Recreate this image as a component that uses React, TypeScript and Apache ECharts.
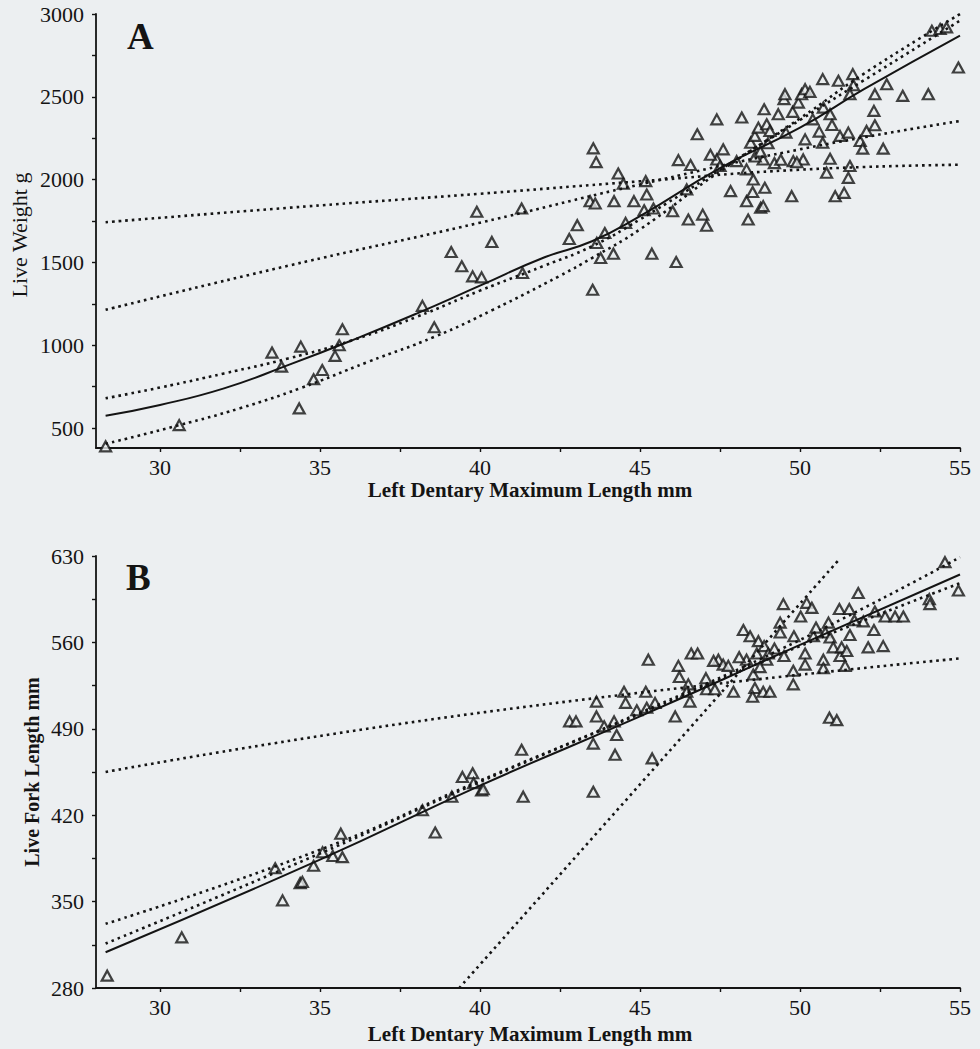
import React, { useEffect, useRef } from "react";
import * as echarts from "echarts";

// ---------- Panel A : Live Weight (g) vs Left Dentary Maximum Length (mm)
const weightPoints: [number, number][] = [
  [28.3, 390], [30.6, 518], [33.5, 956], [33.8, 871], [34.4, 992], [34.35, 619],
  [34.8, 795], [35.07, 851], [35.47, 936], [35.6, 1000], [35.7, 1097],
  [38.2, 1238], [38.57, 1109], [39.1, 1563], [39.43, 1477], [39.77, 1416],
  [40.05, 1410], [39.9, 1806], [40.37, 1624], [41.3, 1826], [41.33, 1436],
  [42.79, 1642], [43.04, 1725], [43.54, 2189], [43.63, 2106], [43.44, 1870],
  [43.6, 1856], [43.52, 1335], [43.65, 1618], [43.9, 1678], [43.77, 1527],
  [44.17, 1553], [44.19, 1870], [44.32, 2037], [44.48, 1975], [44.55, 1739],
  [44.81, 1870], [45.18, 1991], [45.21, 1910], [45.13, 1815], [45.42, 1826],
  [45.37, 1553], [46.13, 1503], [46.02, 1809], [46.2, 2118], [46.58, 2088],
  [46.46, 1941], [46.51, 1759], [46.79, 2274], [46.96, 1789], [47.08, 1722],
  [47.4, 2364], [47.4, 2122], [47.6, 2183], [47.5, 2082], [47.83, 1931],
  [48.02, 2112], [48.18, 2375], [48.33, 2062], [48.38, 1759], [48.33, 1870],
  [48.52, 1925], [48.54, 2001], [48.46, 2223], [48.59, 2264], [48.7, 2314],
  [48.77, 1830], [48.85, 1840], [48.9, 1951], [48.85, 2122], [48.88, 2425],
  [48.96, 2334], [49.06, 2294], [49.32, 2395], [49.5, 2486], [49.53, 2516],
  [49.56, 2284], [49.74, 1900], [49.77, 2409], [49.79, 2112], [49.95, 2465],
  [50.05, 2516], [50.16, 2546], [50.31, 2530], [50.16, 2243], [50.1, 2122],
  [50.4, 2364], [50.71, 2607], [50.73, 2435], [50.71, 2223], [50.94, 2126],
  [50.83, 2042], [50.94, 2395], [51.1, 1900], [51.25, 2264], [51.2, 2597],
  [51.38, 1920], [51.51, 2284], [51.56, 2082], [51.51, 2011], [51.65, 2637],
  [51.67, 2570], [51.56, 2516], [51.88, 2233], [51.96, 2187], [52.08, 2294],
  [52.34, 2328], [52.31, 2415], [52.34, 2516], [52.6, 2187], [52.71, 2576],
  [53.21, 2506], [54.01, 2516], [54.12, 2899], [54.38, 2909], [54.58, 2919],
  [54.95, 2677], [48.6, 2140], [48.76, 2170], [49.2, 2100], [49.4, 2120],
  [49.9, 2105], [49.0, 2220], [47.2, 2150], [50.6, 2290], [51.0, 2330]
];
const weightFit: [number, number][] = [
  [28.3, 575], [30, 640], [32, 740], [34, 880], [36, 1030], [38, 1190], [40, 1360],
  [42, 1530], [43.5, 1628], [45, 1780], [47.5, 2070], [50, 2314], [52, 2546], [55, 2870]
];
const weightCurveUpper: [number, number][] = [
  [28.3, 680], [30, 745], [32, 830], [34, 920], [36, 1030], [38, 1170], [40, 1330],
  [42, 1480], [43.5, 1598], [45, 1760], [47.5, 2060], [50, 2370], [52, 2640], [55, 3000]
];
const weightCurveLower: [number, number][] = [
  [28.3, 405], [30.6, 518], [32.5, 620], [34.4, 742], [36.5, 900], [38.6, 1053],
  [40.4, 1214], [42.5, 1420], [43.5, 1527], [45, 1700], [47.5, 2050], [50, 2360],
  [52, 2600], [55, 2960]
];
const weightLineFlat: [number, number][] = [
  [28.3, 1743], [34, 1830], [40, 1915], [45, 1990], [50, 2060], [55, 2090]
];
const weightLineMid: [number, number][] = [
  [28.3, 1214], [34, 1480], [40, 1740], [45, 1971], [50, 2183], [55, 2354]
];

// ---------- Panel B : Live Fork Length (mm)
const forkPoints: [number, number][] = [
  [28.35, 290], [30.68, 321], [33.83, 351], [33.6, 377], [34.38, 365], [34.45, 366],
  [34.8, 379], [35.08, 390], [35.4, 387], [35.7, 386], [35.65, 405], [38.2, 424],
  [38.6, 406], [39.12, 435], [39.45, 451], [39.77, 454], [39.8, 446], [40.05, 440],
  [40.1, 441], [41.3, 473], [41.35, 435], [42.8, 496], [43.0, 496], [43.54, 439],
  [43.64, 512], [43.64, 500], [43.54, 478], [43.88, 492], [44.19, 496], [44.27, 485],
  [44.22, 469], [44.5, 520], [44.55, 511], [44.9, 505], [45.18, 520], [45.21, 507],
  [45.47, 511], [45.38, 466], [45.26, 546], [46.1, 500], [46.2, 541], [46.23, 532],
  [46.51, 526], [46.56, 512], [46.46, 520], [46.6, 551], [46.8, 551], [47.06, 531],
  [47.08, 522], [47.34, 522], [47.45, 546], [47.6, 542], [47.76, 541], [47.92, 520],
  [48.23, 570], [48.33, 546], [48.44, 565], [48.54, 534], [48.59, 523], [48.52, 516],
  [48.65, 551], [48.7, 561], [48.85, 520], [48.88, 557], [48.96, 546], [49.06, 520],
  [49.01, 551], [49.38, 576], [49.48, 591], [49.38, 568], [49.5, 549], [49.79, 537],
  [49.79, 526], [49.81, 565], [50.02, 581], [50.16, 551], [50.16, 542], [50.21, 592],
  [50.37, 588], [50.42, 565], [50.73, 546], [50.73, 539], [50.79, 568], [50.89, 576],
  [50.94, 564], [50.92, 499], [51.15, 497], [51.04, 556], [51.23, 587], [51.25, 549],
  [51.3, 556], [51.41, 541], [51.46, 553], [51.54, 587], [51.56, 566], [51.82, 600],
  [51.98, 577], [52.13, 556], [52.31, 570], [52.34, 585], [52.6, 557], [52.66, 581],
  [52.97, 581], [53.23, 581], [54.04, 595], [54.06, 591], [54.53, 625], [54.95, 602],
  [48.75, 540], [49.2, 555], [50.5, 572], [51.7, 578], [47.3, 545], [48.1, 548]
];
const forkFit: [number, number][] = [
  [28.3, 309], [35, 384], [40, 444], [45, 500], [50, 558], [55, 615]
];
const forkCurveUpper: [number, number][] = [
  [28.3, 332], [35, 392], [40, 448], [45, 503], [50, 562], [55, 629]
];
const forkCurveLower: [number, number][] = [
  [28.3, 316], [35, 389], [40, 447], [45, 502], [50, 557], [55, 608]
];
const forkLineFlat: [number, number][] = [[28.3, 455], [40, 503], [55, 547]];
const forkLineSteep: [number, number][] = [[39.35, 280], [45, 445], [51.25, 628]];

// ---------- ticks
const xMajor = [30, 35, 40, 45, 50, 55];
const xTicks = [30, 32.5, 35, 37.5, 40, 42.5, 45, 47.5, 50, 52.5, 55];
const weightMajor = [500, 1000, 1500, 2000, 2500, 3000];
const weightTicks = [500, 750, 1000, 1250, 1500, 1750, 2000, 2250, 2500, 2750, 3000];
const forkMajor = [280, 350, 420, 490, 560, 630];
const forkTicks = [280, 315, 350, 385, 420, 455, 490, 525, 560, 595, 630];

const FONT = "'Liberation Serif', 'Times New Roman', serif";
const INK = "#141414";

export default function App() {
  const ref = useRef<HTMLDivElement>(null);
  useEffect(() => {
    if (!ref.current) return;
    const chart = echarts.init(ref.current, null, { renderer: "svg" });

    const axisLine = { show: true, onZero: false, lineStyle: { color: INK, width: 1.8 } };
    const plain = (v: number) => String(v);
    const mkX = (gridIndex: number) => ({
      type: "value", gridIndex, min: 28, max: 55,
      axisLine,
      axisTick: { show: true, customValues: xTicks, length: 4, lineStyle: { color: INK, width: 1.4 } },
      axisLabel: { customValues: xMajor, formatter: plain, color: INK, fontFamily: FONT, fontSize: 22, margin: 8 },
      splitLine: { show: false },
    });
    const mkY = (gridIndex: number, min: number, max: number, ticks: number[], major: number[]) => ({
      type: "value", gridIndex, min, max,
      axisLine,
      axisTick: { show: true, customValues: ticks, length: 4, lineStyle: { color: INK, width: 1.4 } },
      axisLabel: { customValues: major, formatter: plain, color: INK, fontFamily: FONT, fontSize: 22, margin: 12 },
      splitLine: { show: false },
    });
    const scatter = (i: number, data: [number, number][]) => ({
      type: "scatter", xAxisIndex: i, yAxisIndex: i, data,
      symbol: "triangle", symbolSize: [11, 10],
      itemStyle: { color: "#e9ecee", borderColor: INK, borderWidth: 2.2 },
      z: 3,
    });
    const line = (i: number, data: [number, number][], dotted: boolean) => ({
      type: "line", xAxisIndex: i, yAxisIndex: i, data, smooth: true, showSymbol: false,
      symbol: "none",
      lineStyle: dotted
        ? { color: INK, width: 2.6, type: [2.6, 4] }
        : { color: INK, width: 2, type: "solid" },
      z: 4,
    });

    chart.setOption({
      animation: false,
      backgroundColor: "#eceff1",
      grid: [
        { left: 96, right: 20, top: 14, height: 434 },
        { left: 96, right: 20, top: 556, height: 432 },
      ],
      xAxis: [mkX(0), mkX(1)],
      yAxis: [
        mkY(0, 380, 3000, weightTicks, weightMajor),
        mkY(1, 280, 630, forkTicks, forkMajor),
      ],
      series: [
        scatter(0, weightPoints),
        line(0, weightFit, false),
        line(0, weightCurveUpper, true),
        line(0, weightCurveLower, true),
        line(0, weightLineFlat, true),
        line(0, weightLineMid, true),
        scatter(1, forkPoints),
        line(1, forkFit, false),
        line(1, forkCurveUpper, true),
        line(1, forkCurveLower, true),
        line(1, forkLineFlat, true),
        line(1, forkLineSteep, true),
      ],
      graphic: [
        { type: "text", left: 127, top: 18, style: { text: "A", font: `bold 37px ${FONT}`, fill: INK } },
        { type: "text", left: 126, top: 559, style: { text: "B", font: `bold 37px ${FONT}`, fill: INK } },
        { type: "text", x: 530, y: 490, style: { text: "Left Dentary Maximum Length mm", font: `bold 21px ${FONT}`, fill: INK, align: "center", verticalAlign: "middle" } },
        { type: "text", x: 530, y: 1034, style: { text: "Left Dentary Maximum Length mm", font: `bold 21px ${FONT}`, fill: INK, align: "center", verticalAlign: "middle" } },
        { type: "text", x: 19, y: 235, rotation: Math.PI / 2, style: { text: "Live Weight g", font: `22px ${FONT}`, fill: INK, align: "center", verticalAlign: "middle" } },
        { type: "text", x: 32, y: 772, rotation: Math.PI / 2, style: { text: "Live Fork Length mm", font: `bold 20px ${FONT}`, fill: INK, align: "center", verticalAlign: "middle" } },
      ],
    });
    return () => chart.dispose();
  }, []);
  return (
    <div
      ref={ref}
      style={{ position: "absolute", left: 0, top: 0, width: 980, height: 1049, background: "#eceff1" }}
    />
  );
}
